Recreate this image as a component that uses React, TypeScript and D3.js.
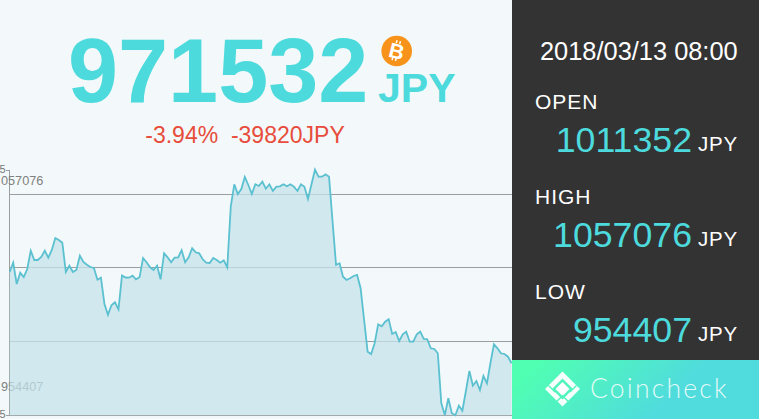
import * as d3 from 'd3'

const prices = [
  1014315, 1018202, 1009299, 1014022, 1012225, 1015569, 1023218, 1019331, 1019331, 1020585,
  1023218, 1020292, 1023511, 1028527, 1027691, 1026562, 1014315, 1016948, 1014315, 1015151,
  1021128, 1018495, 1017366, 1016405, 1015987, 1011096, 1011932, 1000939, 996466, 1000396,
  1001650, 998724, 1012852, 1012016, 1011932, 1012768, 1011264, 1012100, 1020167, 1018370,
  1016280, 1015151, 1016948, 1011264, 1022132, 1020460, 1018370, 1020292, 1020460, 1023386,
  1018370, 1020460, 1024222, 1022550, 1022132, 1019624, 1018202, 1018077, 1020167, 1019331,
  1018202, 1019206, 1016280, 1041610, 1050974, 1046919, 1049009, 1054025, 1050681, 1046919,
  1050974, 1050263, 1052060, 1049134, 1050974, 1048173, 1049970, 1050138, 1050974, 1050138,
  1050974, 1049970, 1048173, 1050974, 1049970, 1044829, 1050974, 1057076, 1054150, 1054150,
  1055154, 1054150, 1035633, 1017241, 1017952, 1012350, 1010971, 1011682, 1012643, 1013061,
  1007502, 994251, 981000, 980039, 984512, 992454, 991618, 993540, 994544, 988399,
  989235, 985473, 988274, 989360, 985180, 985180, 988274, 989360, 986309, 986184,
  982422, 982129, 980332, 959432, 954541, 961522, 955252, 954407, 958428, 956338,
  964573, 972933, 966788, 968753, 964991, 970843, 967792, 976277, 984094, 982422,
  980332, 980039, 978910, 976152,
]

const gridValues = [1047017, 1016196, 985390, 954407]
const axisTicks = [1057075, 954405]
// the left edge of the window cuts these, only the visible part is kept
const axisTickLabels = ['5', '5']
const extremeValues = [1057076, 954407]
const extremeLabels = ['057076', '954407']

const currentPrice = '971532'
const currency = 'JPY'
const change = '-3.94%  -39820JPY'
const timestamp = '2018/03/13 08:00'
const ohlcLabels = ['OPEN', 'HIGH', 'LOW']
const ohlcValues = ['1011352', '1057076', '954407']

const sans = '"Liberation Sans", Arial, sans-serif'
const cyan = '#4ddadd'

const x = d3.scaleLinear().domain([0, prices.length - 1]).range([9.7, 511.5])
const y = d3.scaleLinear().domain([954407, 1057076]).range([415.3, 169.7])

const area = d3
  .area<number>()
  .x((_, i) => x(i))
  .y0(415.3)
  .y1((d) => y(d))
const line = d3
  .line<number>()
  .x((_, i) => x(i))
  .y((d) => y(d))

export default function App() {
  return (
    <svg
      width={759}
      height={419}
      style={{ position: 'absolute', left: 0, top: 0, fontFamily: sans }}
    >
      <defs>
        <linearGradient id="foot" x1="0" y1="0" x2="1" y2="0.25">
          <stop offset="0.1" stopColor="#50ffb2" />
          <stop offset="0.75" stopColor="#50dcdc" />
        </linearGradient>
      </defs>
      <rect width={759} height={419} fill="#f3f9fa" />

      {/* headline */}
      <text x={68} y={102} fontSize={90} fontWeight="bold" fill={cyan}>
        {currentPrice}
      </text>
      <text x={378} y={101.5} fontSize={41} fontWeight="bold" fill={cyan}>
        {currency}
      </text>
      <g transform="translate(396.7,51)">
        <circle r={15.3} fill="#f7931a" />
        <g transform="rotate(14)" fill="#fff">
          <text textAnchor="middle" y={7.5} fontSize={21} fontWeight="bold">
            B
          </text>
          <rect x={-3} y={-10.5} width={1.5} height={3} />
          <rect x={0.5} y={-10.5} width={1.5} height={3} />
          <rect x={-3} y={7} width={1.5} height={3} />
          <rect x={0.5} y={7} width={1.5} height={3} />
        </g>
      </g>
      <text x={245} y={143} textAnchor="middle" fontSize={23} fill="#e74c3c" style={{ whiteSpace: 'pre' }}>
        {change}
      </text>

      {/* axis and grid sit under the area */}
      <g stroke="#9a9e9f" strokeWidth={1} shapeRendering="crispEdges">
        {gridValues.map((v) => (
          <line key={v} x1={9.5} x2={512} y1={Math.round(y(v)) + 0.5} y2={Math.round(y(v)) + 0.5} />
        ))}
        <line x1={9.5} x2={9.5} y1={170} y2={415} />
        <line x1={6} x2={9.5} y1={170.5} y2={170.5} />
        <line x1={6} x2={9.5} y1={415.5} y2={415.5} />
      </g>
      <g fontSize={11} fill="#777">
        {axisTicks.map((v, i) => (
          <text key={v} x={5.5} y={y(v) + 3} textAnchor="end">
            {axisTickLabels[i]}
          </text>
        ))}
      </g>
      <g fontSize={12.7} fill="#808080">
        <text x={1} y={y(extremeValues[0]) + 15}>
          {extremeLabels[0]}
        </text>
        <text x={1} y={y(extremeValues[1]) - 24}>
          {extremeLabels[1]}
        </text>
      </g>
      <path d={area(prices) ?? ''} fill="rgb(196,226,233)" fillOpacity={0.75} />
      <path d={line(prices) ?? ''} fill="none" stroke="#5bc0d0" strokeWidth={1.8} />

      {/* right panel */}
      <rect x={512} width={247} height={360} fill="#333" />
      <text x={540} y={60} fontSize={25.4} fill="#fff">
        {timestamp}
      </text>
      {ohlcLabels.map((label, i) => (
        <g key={label} transform={`translate(0,${i * 95})`}>
          <text x={535} y={108.5} fontSize={21} fill="#fff" letterSpacing={1}>
            {label}
          </text>
          <text x={692} y={151.5} textAnchor="end" fontSize={35.7} fill={cyan}>
            {ohlcValues[i]}
          </text>
          <text x={738} y={150.5} textAnchor="end" fontSize={20.5} fill="#fff" letterSpacing={0.8}>
            {currency}
          </text>
        </g>
      ))}

      {/* footer logo */}
      <rect x={512} y={360} width={247} height={59} fill="url(#foot)" />
      <g transform="translate(562.5,389)">
        <path d="M0,-17.5 L17.5,0 L0,17.5 L-17.5,0 Z" fill="#fff" opacity={0.95} />
        <path d="M0,-10.5 L10.5,0 L0,10.5 L-10.5,0 Z" fill="#50f4bc" />
        <path d="M0,-7 L7,0 L0,7 L-7,0 Z" fill="#fff" />
        <path d="M-14,-3.5 L-7.5,3 M14,-3.5 L7.5,3 M-7.5,14 L0,7 L7.5,14" fill="none" stroke="#50f4bc" strokeWidth={1.4} />
      </g>
      <text x={590} y={398} fontSize={26.5} fill="#fff" fillOpacity={0.85} fontFamily="Lato, sans-serif" fontWeight={300} letterSpacing={2.2}>
        Coincheck
      </text>
    </svg>
  )
}
